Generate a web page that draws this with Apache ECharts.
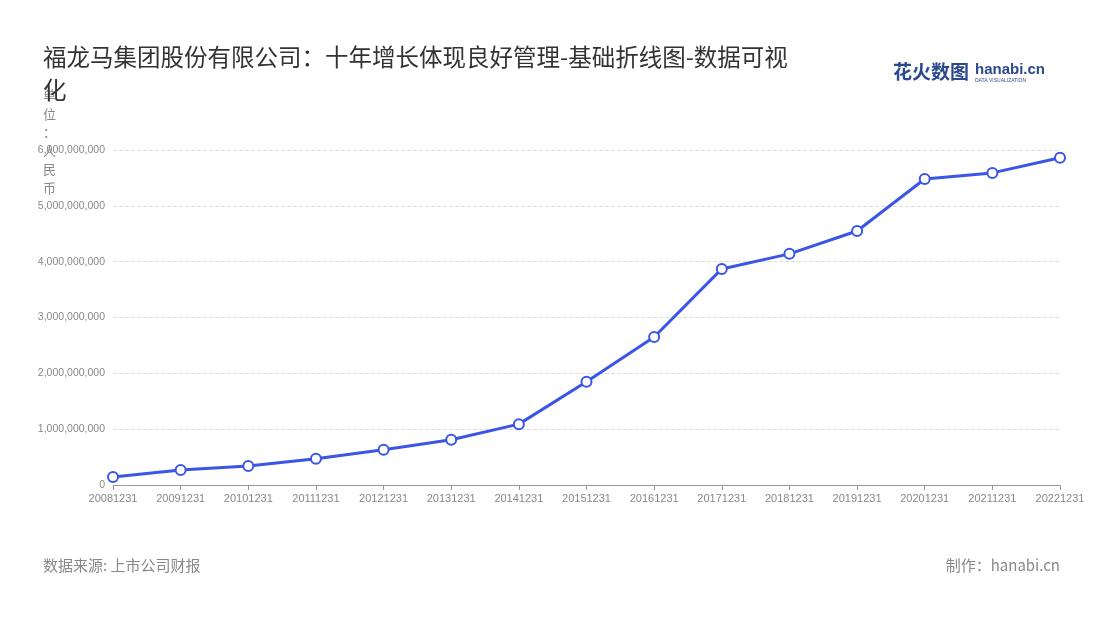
<!DOCTYPE html>
<html><head><meta charset="utf-8">
<script src="https://cdn.jsdelivr.net/npm/echarts@6/dist/echarts.min.js"></script>
<style>html,body{margin:0;padding:0;background:#fff}#c{width:1100px;height:620px}</style>
</head><body><div id="c"></div>
<script>
const categories=['20081231','20091231','20101231','20111231','20121231','20131231','20141231','20151231','20161231','20171231','20181231','20191231','20201231','20211231','20221231'];
const values=[143000000,270000000,340000000,470000000,630000000,810000000,1090000000,1850000000,2650000000,3870000000,4140000000,4550000000,5480000000,5590000000,5860000000];
const chart=echarts.init(document.getElementById('c'));
chart.setOption({
  backgroundColor:'#fff',
  title:{text:'福龙马集团股份有限公司：十年增长体现良好管理-基础折线图-数据可视\n化',left:38,top:36,
    textStyle:{fontSize:23.5,fontWeight:'normal',color:'#333',lineHeight:33,fontFamily:'Noto Sans CJK SC'}},
  graphic:[
    {type:'text',left:893,top:62,style:{text:'花火数图',fontSize:19,fontWeight:'bold',fill:'#2b4a8c',fontFamily:'Noto Sans CJK SC'}},
    {type:'text',left:975,top:62,style:{text:'hanabi.cn',fontSize:15,fontWeight:'bold',fill:'#2b4a8c'}},
    {type:'text',left:975,top:78,style:{text:'DATA VISUALIZATION',fontSize:5,fill:'#2b4a8c'}},
    {type:'text',left:43,top:558,style:{text:'数据来源: 上市公司财报',fontSize:15,fill:'#888',fontFamily:'Noto Sans CJK SC'}},
    {type:'text',right:40,top:558,style:{text:'制作：hanabi.cn',fontSize:15,fill:'#888',fontFamily:'Noto Sans CJK SC'}},
    {type:'text',left:43,top:86,style:{text:'单\n位\n：\n人\n民\n币',fontSize:13,lineHeight:18.5,fill:'#888',fontFamily:'Noto Sans CJK SC'}}
  ],
  grid:{left:113,right:40,top:150,bottom:135},
  xAxis:{type:'category',data:categories,boundaryGap:false,
    axisLine:{lineStyle:{color:'#999'}},axisTick:{lineStyle:{color:'#999'}},
    axisLabel:{color:'#888',fontSize:11,interval:0}},
  yAxis:{type:'value',min:0,max:6000000000,interval:1000000000,
    axisLabel:{color:'#888',fontSize:10.5,formatter:v=>v.toLocaleString('en-US')},
    splitLine:{lineStyle:{type:'dashed',color:'#ddd'}},axisLine:{show:false},axisTick:{show:false}},
  series:[{type:'line',data:values,symbol:'circle',symbolSize:10,
    lineStyle:{color:'#3b55e6',width:3},
    itemStyle:{color:'#fff',borderColor:'#3b55e6',borderWidth:2}}]
});
</script></body></html>
